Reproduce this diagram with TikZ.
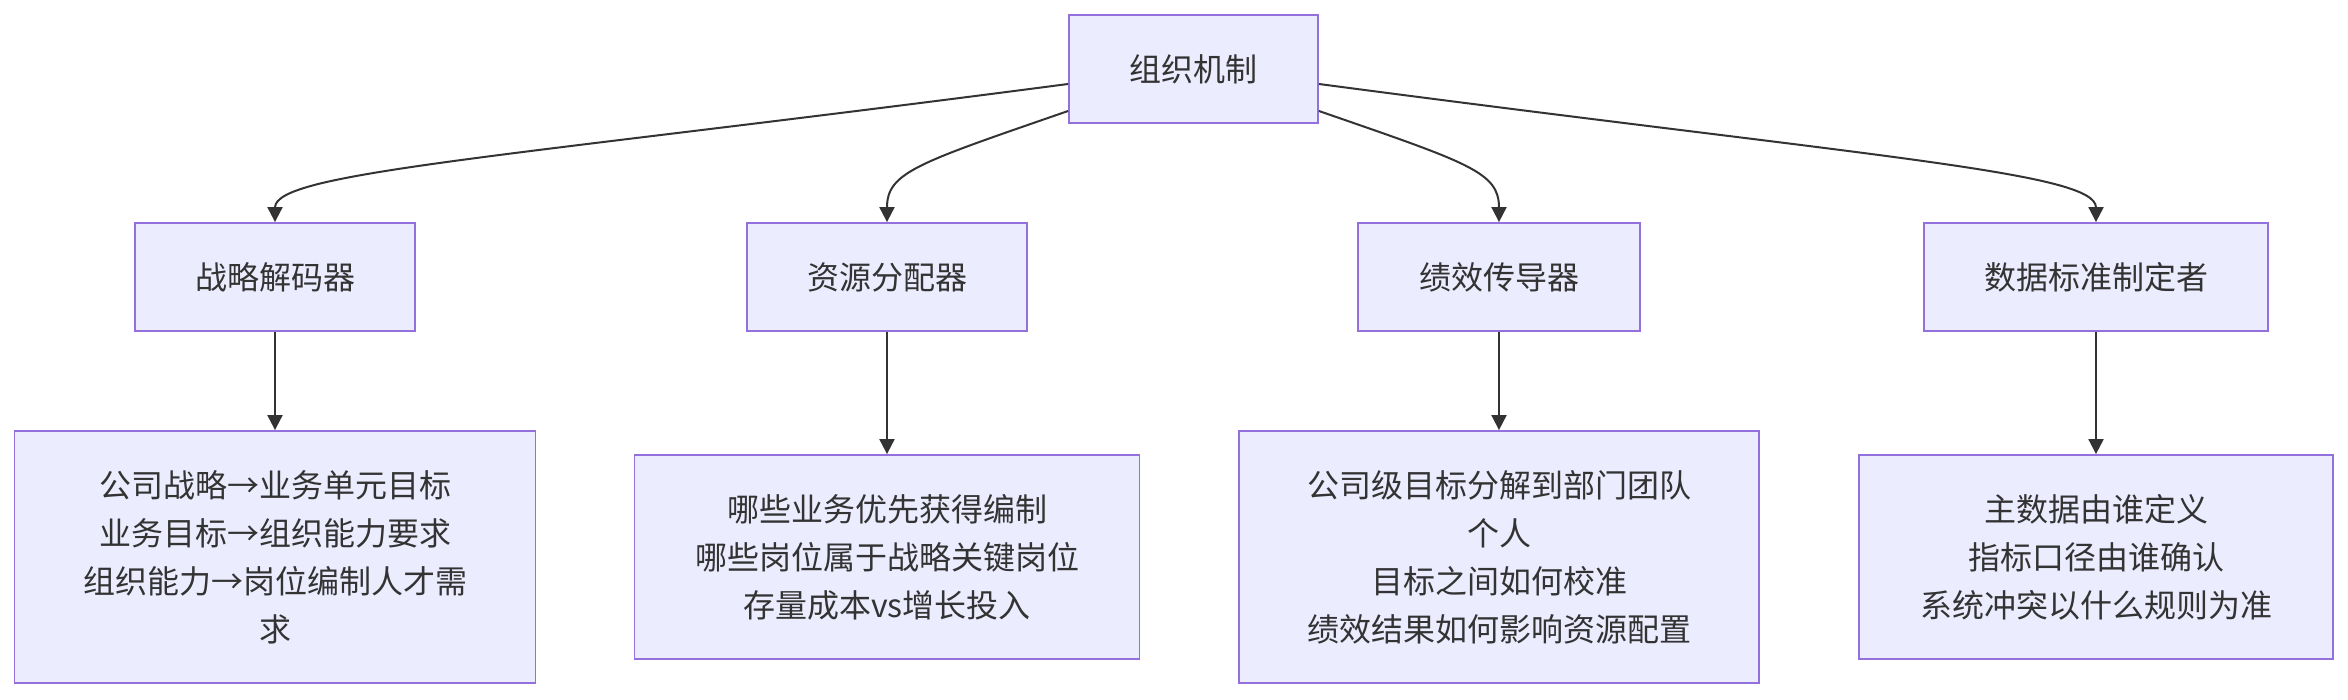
\documentclass[tikz,border=0pt]{standalone}
\usepackage{fontspec}
\setmainfont{Noto Sans CJK SC}
\definecolor{mechfill}{HTML}{ECECFF}
\definecolor{mechline}{HTML}{9370DB}
\definecolor{mechtext}{HTML}{333333}
\usetikzlibrary{arrows.meta}
\tikzset{
    mechbox/.style={
        draw=mechline,
        fill=mechfill,
        line width=1.8pt,
        inner sep=0pt,
        minimum height=108pt,
        align=center,
        text=mechtext,
        font=\fontsize{32}{48}\selectfont
    },
    mecharrow/.style={
        -{Triangle[length=15pt,width=15pt]},
        draw=mechtext,
        line width=2pt
    }
}

\begin{document}
\begin{tikzpicture}[x=1pt,y=1pt,
        detail/.style={mechbox,minimum height=252pt},
        detailshort/.style={mechbox,minimum height=204pt}
    ]
    \useasboundingbox (0,0) rectangle (2348,700);

    \node[mechbox,minimum width=249pt] (mechanism) at (1193.5,631) {组织机制};

    \node[mechbox,minimum width=280pt] (decoder) at (275,423) {战略解码器};
    \node[mechbox,minimum width=280pt] (allocator) at (887,423) {资源分配器};
    \node[mechbox,minimum width=282pt] (transmitter) at (1499,423) {绩效传导器};
    \node[mechbox,minimum width=344pt] (standards) at (2096,423) {数据标准制定者};

    \node[detail,minimum width=521pt] (decoderinfo) at (275,143)
        {公司战略→业务单元目标\\业务目标→组织能力要求\\组织能力→岗位编制人才需\\求};
    \node[detailshort,minimum width=505pt] (allocatorinfo) at (887,143)
        {哪些业务优先获得编制\\哪些岗位属于战略关键岗位\\存量成本vs增长投入};
    \node[detail,minimum width=520pt] (transmitterinfo) at (1499,143)
        {公司级目标分解到部门团队\\个人\\目标之间如何校准\\绩效结果如何影响资源配置};
    \node[detailshort,minimum width=474pt] (standardsinfo) at (2096,143)
        {主数据由谁定义\\指标口径由谁确认\\系统冲突以什么规则为准};

    % curved links from the top
    \draw[mecharrow] ([yshift=-15pt]mechanism.west) .. controls +(-565,-74) and +(0,50) .. (decoder.north);
    \draw[mecharrow] ([yshift=-42pt]mechanism.west) .. controls +(-150,-52) and +(0,50) .. (allocator.north);
    \draw[mecharrow] ([yshift=-42pt]mechanism.east) .. controls +(150,-52) and +(0,50) .. (transmitter.north);
    \draw[mecharrow] ([yshift=-15pt]mechanism.east) .. controls +(560,-74) and +(0,50) .. (standards.north);

    \draw[mecharrow] (decoder.south) -- (decoderinfo.north);
    \draw[mecharrow] (allocator.south) -- (allocatorinfo.north);
    \draw[mecharrow] (transmitter.south) -- (transmitterinfo.north);
    \draw[mecharrow] (standards.south) -- (standardsinfo.north);
\end{tikzpicture}
\end{document}
